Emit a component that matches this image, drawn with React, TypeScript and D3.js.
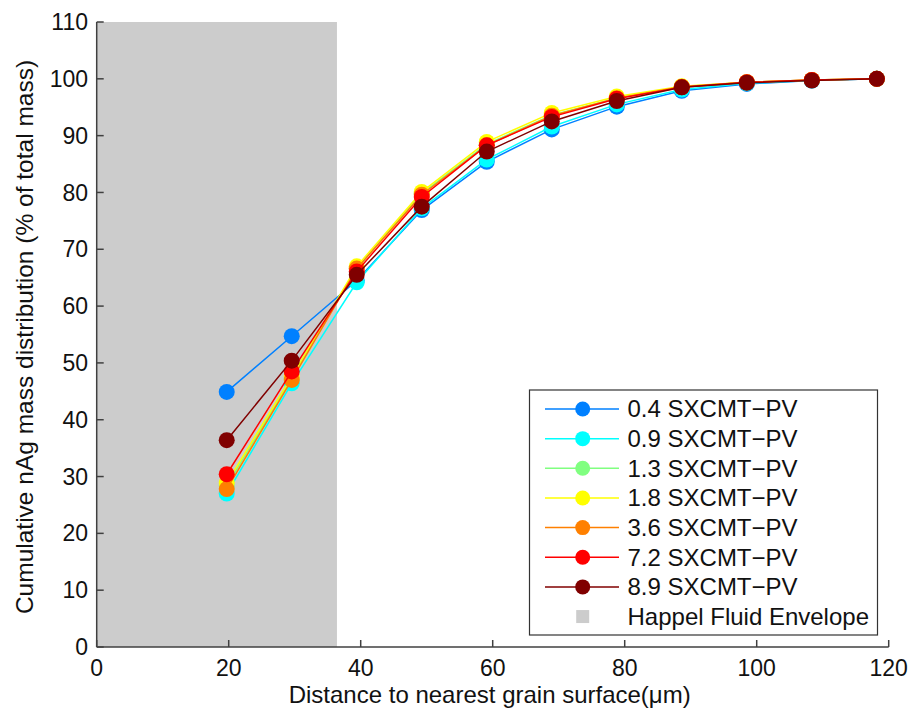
import React from "react";
import * as d3 from "d3";

const distances = [19.7, 29.55, 39.4, 49.25, 59.1, 68.95, 78.8, 88.65, 98.5, 108.35, 118.2];
const seriesNames = [
  "0.4 SXCMT\u2212PV",
  "0.9 SXCMT\u2212PV",
  "1.3 SXCMT\u2212PV",
  "1.8 SXCMT\u2212PV",
  "3.6 SXCMT\u2212PV",
  "7.2 SXCMT\u2212PV",
  "8.9 SXCMT\u2212PV",
];
const seriesColors = ["#0080ff", "#00ffff", "#80ff80", "#ffff00", "#ff8000", "#ff0000", "#800000"];
const s04 = [44.9, 54.7, 64.5, 76.9, 85.4, 91.1, 95.1, 97.9, 99.1, 99.7, 100];
const s09 = [27.0, 46.4, 64.2, 77.2, 85.8, 91.6, 95.5, 98.1, 99.2, 99.7, 100];
const s13 = [28.4, 47.3, 66.6, 79.8, 88.5, 93.6, 96.6, 98.6, 99.4, 99.8, 100];
const s18 = [28.9, 47.6, 67.0, 80.1, 88.9, 94.0, 96.9, 98.7, 99.4, 99.8, 100];
const s36 = [27.8, 47.0, 66.6, 79.6, 88.3, 93.5, 96.6, 98.6, 99.4, 99.8, 100];
const s72 = [30.4, 48.5, 66.1, 79.2, 88.3, 93.3, 96.5, 98.5, 99.4, 99.8, 100];
const s89 = [36.4, 50.4, 65.5, 77.5, 87.2, 92.5, 96.1, 98.5, 99.3, 99.7, 100];
const seriesValues = [s04, s09, s13, s18, s36, s72, s89];
const envelopeEnd = 36.4;
const envelopeLabel = "Happel Fluid Envelope";
const xTicks = [0, 20, 40, 60, 80, 100, 120];
const yTicks = [0, 10, 20, 30, 40, 50, 60, 70, 80, 90, 100, 110];
const xLabel = "Distance to nearest grain surface(\u03bcm)";
const yLabel = "Cumulative nAg mass distribution (% of total mass)";

export default function App() {
  const W = 912, H = 714;
  const left = 96.7, right = 888.7, top = 22, bottom = 647;
  const x = d3.scaleLinear().domain([0, 120]).range([left, right]);
  const y = d3.scaleLinear().domain([0, 110]).range([bottom, top]);
  const line = d3.line<number>().x((_, i) => x(distances[i])).y((d) => y(d));
  const font = "Arial, 'Liberation Sans', sans-serif";
  const fsTick = 23;
  const fsXLabel = 24;
  const fsYLabel = 24.5;
  const fsLegend = 24;
  const axisColor = "#404040";

  const legX = 529.5, legY = 390, legW = 348, legH = 245;
  const rowY0 = 409, rowStep = 29.65;

  return (
    <svg width={W} height={H} style={{ position: "absolute", left: 0, top: 0, background: "#fff" }} fontFamily={font}>
      <rect x={x(0)} y={y(110)} width={x(envelopeEnd) - x(0)} height={y(0) - y(110)} fill="#cccccc" />
      {seriesValues.map((vals, si) => (
        <g key={si}>
          <path d={line(vals) || ""} fill="none" stroke={seriesColors[si]} strokeWidth={1.5} />
          {vals.map((v, i) => (
            <circle key={i} cx={x(distances[i])} cy={y(v)} r={8} fill={seriesColors[si]} />
          ))}
        </g>
      ))}
      {/* axes */}
      <line x1={left} x2={right} y1={bottom} y2={bottom} stroke={axisColor} strokeWidth={1.5} />
      <line x1={left} x2={left} y1={top} y2={bottom} stroke={axisColor} strokeWidth={1.5} />
      {xTicks.map((t) => (
        <g key={t}>
          <line x1={x(t)} x2={x(t)} y1={bottom} y2={bottom - 7} stroke={axisColor} strokeWidth={1.5} />
          <text x={x(t)} y={676} textAnchor="middle" fontSize={fsTick} fill="#111">{t}</text>
        </g>
      ))}
      {yTicks.map((t) => (
        <g key={t}>
          <line x1={left} x2={left + 7} y1={y(t)} y2={y(t)} stroke={axisColor} strokeWidth={1.5} />
          <text x={88} y={y(t)} dy="0.35em" textAnchor="end" fontSize={fsTick} fill="#111">{t}</text>
        </g>
      ))}
      <text x={(left + right) / 2 - 3} y={703} textAnchor="middle" fontSize={fsXLabel} fill="#111">{xLabel}</text>
      <text transform={`translate(33,${(57 + 617) / 2}) rotate(-90)`} textAnchor="middle" fontSize={fsYLabel} fill="#111">{yLabel}</text>
      {/* legend */}
      <rect x={legX} y={legY} width={legW} height={legH} fill="#fff" stroke="#333" strokeWidth={1.2} />
      {seriesNames.map((n, i) => {
        const ry = rowY0 + i * rowStep;
        return (
          <g key={n}>
            <line x1={545} x2={619} y1={ry} y2={ry} stroke={seriesColors[i]} strokeWidth={1.5} />
            <circle cx={582.7} cy={ry} r={7.5} fill={seriesColors[i]} />
            <text x={627.5} y={ry} dy="0.35em" fontSize={fsLegend} fill="#111">{n}</text>
          </g>
        );
      })}
      <rect x={582.7 - 6.5} y={rowY0 + 7 * rowStep - 6.5} width={13} height={13} fill="#cccccc" />
      <text x={627.5} y={rowY0 + 7 * rowStep} dy="0.35em" fontSize={fsLegend} fill="#111">{envelopeLabel}</text>
    </svg>
  );
}
